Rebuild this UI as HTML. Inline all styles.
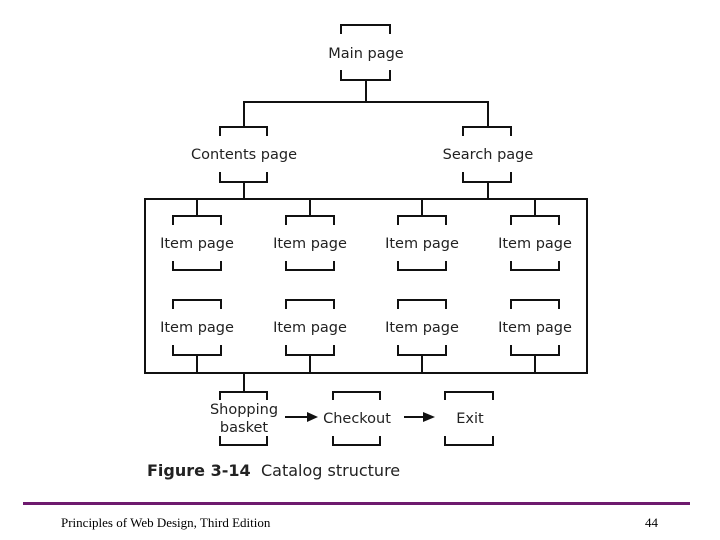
<!DOCTYPE html>
<html><head><meta charset="utf-8"><style>
html,body{margin:0;padding:0;background:#fff;}
svg{display:block;}
</style></head><body>
<svg width="720" height="540" viewBox="0 0 720 540" xmlns="http://www.w3.org/2000/svg">
<g stroke="#111" stroke-width="2" fill="none" stroke-linecap="square">
<!-- Main -->
<path d="M341 33 V25 H390 V33"/>
<path d="M341 71 V80 H390 V71"/>
<path d="M366 80 V102"/>
<path d="M244 102 H488"/>
<path d="M244 102 V127 M488 102 V127"/>
<!-- Contents / Search -->
<path d="M220 135 V127 H267 V135"/>
<path d="M220 173 V182 H267 V173"/>
<path d="M463 135 V127 H511 V135"/>
<path d="M463 173 V182 H511 V173"/>
<path d="M244 182 V199 M488 182 V199"/>
<!-- box -->
<rect x="145" y="199" width="442" height="174"/>
<!-- items -->
<path d="M197 199 V216 M310 199 V216 M422 199 V216 M535 199 V216"/>
<path d="M173 224 V216 H221 V224 M286 224 V216 H334 V224 M398 224 V216 H446 V224 M511 224 V216 H559 V224"/>
<path d="M173 262 V270 H221 V262 M286 262 V270 H334 V262 M398 262 V270 H446 V262 M511 262 V270 H559 V262"/>
<path d="M173 308 V300 H221 V308 M286 308 V300 H334 V308 M398 308 V300 H446 V308 M511 308 V300 H559 V308"/>
<path d="M173 346 V355 H221 V346 M286 346 V355 H334 V346 M398 346 V355 H446 V346 M511 346 V355 H559 V346"/>
<path d="M197 355 V373 M310 355 V373 M422 355 V373 M535 355 V373"/>
<!-- bottom -->
<path d="M244 373 V392"/>
<path d="M220 399 V392 H267 V399"/>
<path d="M220 437 V445 H267 V437"/>
<path d="M333 399 V392 H380 V399"/>
<path d="M333 437 V445 H380 V437"/>
<path d="M445 399 V392 H493 V399"/>
<path d="M445 437 V445 H493 V437"/>
<path d="M286 417 H310 M405 417 H426"/>
</g>
<g fill="#111">
<polygon points="307,412 318,417 307,422"/>
<polygon points="423,412 435,417 423,422"/>
</g>
<g font-family="'DejaVu Sans','Liberation Sans',sans-serif" font-size="14.5" fill="#222" text-anchor="middle">
<text x="366" y="58">Main page</text>
<text x="244" y="159">Contents page</text>
<text x="488" y="159">Search page</text>
<text x="197" y="248">Item page</text><text x="310" y="248">Item page</text><text x="422" y="248">Item page</text><text x="535" y="248">Item page</text>
<text x="197" y="332">Item page</text><text x="310" y="332">Item page</text><text x="422" y="332">Item page</text><text x="535" y="332">Item page</text>
<text x="244" y="414">Shopping</text>
<text x="244" y="432">basket</text>
<text x="357" y="423">Checkout</text>
<text x="470" y="423">Exit</text>
</g>
<text x="147" y="476" font-family="'DejaVu Sans','Liberation Sans',sans-serif" font-size="16" font-weight="bold" fill="#222">Figure 3-14</text>
<text x="261" y="476" font-family="'DejaVu Sans','Liberation Sans',sans-serif" font-size="16" fill="#222">Catalog structure</text>
<rect x="23" y="502" width="667" height="3" fill="#6e1a6e"/>
<text x="61" y="527" font-family="'Liberation Serif',serif" font-size="13" fill="#000">Principles of Web Design, Third Edition</text>
<text x="645" y="527" font-family="'Liberation Serif',serif" font-size="13" fill="#000">44</text>
</svg>
</body></html>
